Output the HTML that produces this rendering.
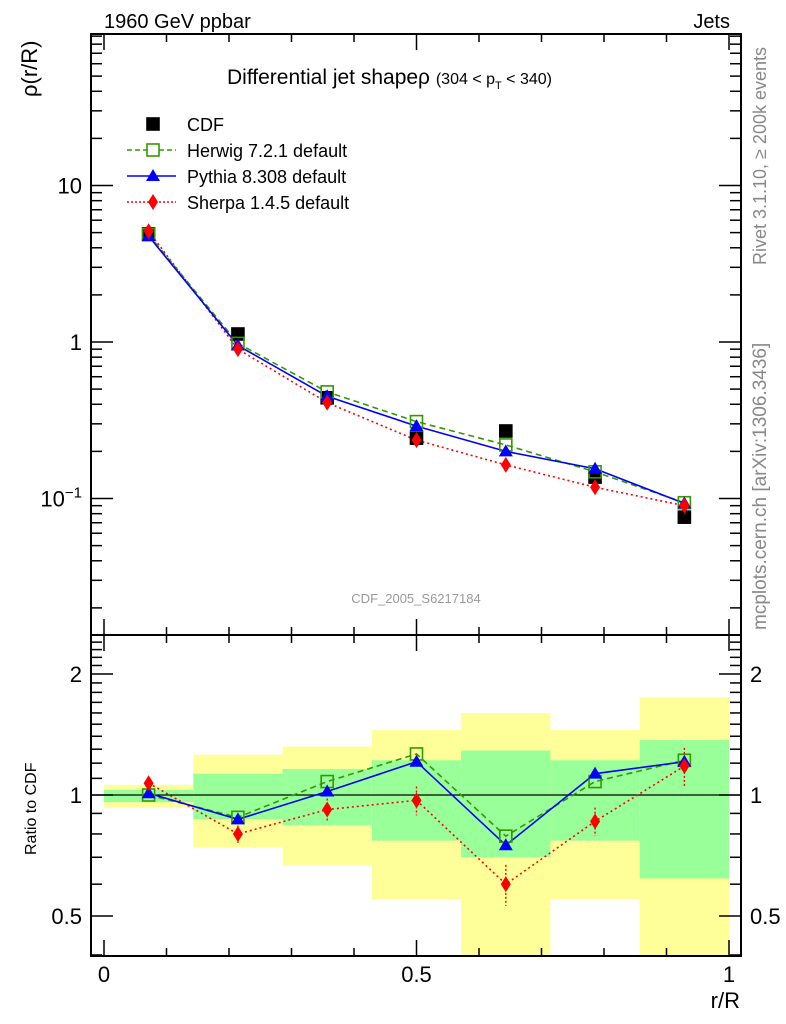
<!DOCTYPE html>
<html><head><meta charset="utf-8">
<style>
html,body{margin:0;padding:0;background:#fff;}
svg{display:block;font-family:"Liberation Sans",sans-serif;}
</style></head>
<body>
<svg id="c" width="786" height="1024" viewBox="0 0 786 1024"></svg>
<script>
const xCenters=[0.0714,0.2143,0.3571,0.5,0.6429,0.7857,0.9286];
const binEdges=[0,0.1429,0.2857,0.4286,0.5714,0.7143,0.8571,1.0];
const cdfVals=[4.9,1.125,0.44,0.243,0.27,0.137,0.076];
const herwigVals=[4.85,0.98,0.48,0.31,0.22,0.148,0.094];
const pythiaVals=[4.75,0.95,0.45,0.29,0.20,0.155,0.093];
const sherpaVals=[5.1,0.9,0.41,0.236,0.164,0.118,0.09];
const herwigRatio=[1.0,0.88,1.08,1.265,0.79,1.08,1.22];
const pythiaRatio=[1.01,0.87,1.02,1.21,0.75,1.13,1.21];
const sherpaRatio=[1.07,0.80,0.92,0.97,0.60,0.86,1.18];
const sherpaRatioErr=[0.03,0.04,0.06,0.08,0.07,0.07,0.13];
const greenHi=[1.03,1.13,1.16,1.22,1.29,1.22,1.37];
const greenLo=[0.96,0.87,0.84,0.77,0.70,0.77,0.62];
const yellowHi=[1.06,1.26,1.32,1.45,1.60,1.45,1.75];
const yellowLo=[0.93,0.74,0.67,0.55,0.40,0.55,0.40];
const xTickLabels=["0","0.5","1"];

const svg=document.getElementById('c');
const NS='http://www.w3.org/2000/svg';
function el(tag,attrs,parent){const e=document.createElementNS(NS,tag);for(const k in attrs)e.setAttribute(k,attrs[k]);(parent||svg).appendChild(e);return e;}
const L=91,R=741,T=34,M=635,B=956;
const X=v=>104+625*v;
const Ym=v=>342-156.5*Math.log10(v);
const Yr=v=>795-402*Math.log10(v);

for(let i=0;i<7;i++){
  const x0=X(binEdges[i]),x1=X(binEdges[i+1]);
  const yb=el('rect',{x:x0,y:Math.max(Yr(yellowHi[i]),M),width:x1-x0,height:Math.min(Yr(yellowLo[i]),B)-Math.max(Yr(yellowHi[i]),M),fill:'#ffff99'});
  
  
  const gb=el('rect',{x:x0,y:Yr(greenHi[i]),width:x1-x0,height:Math.min(Yr(greenLo[i]),B)-Yr(greenHi[i]),fill:'#99ff99'});
  
  
}
el('line',{x1:L,x2:R,y1:Yr(1),y2:Yr(1),stroke:'#000','stroke-width':1.2});

const f1=el('rect',{x:L,y:T,width:R-L,height:M-T,fill:'none',stroke:'#000','stroke-width':2});

const f2=el('rect',{x:L,y:M,width:R-L,height:B-M,fill:'none',stroke:'#000','stroke-width':2});


for(let k=0;k<=10;k++){
  const v=k/10,x=X(v),len=(k%5==0)?16:8;
  for(const [y0,dir] of [[T,1],[M,-1],[M,1],[B,-1]]){
    el('line',{x1:x,x2:x,y1:y0,y2:y0+dir*len,stroke:'#000','stroke-width':1.5});
  }
}
xTickLabels.forEach((t,i)=>{const e=el('text',{x:X(i*0.5),y:982,'font-size':22,'text-anchor':'middle'});e.textContent=t;
});

for(let d=-2;d<=1;d++){for(let m=1;m<=9;m++){
  const v=m*Math.pow(10,d),y=Ym(v); if(y<T||y>M)continue;
  const len=m==1?22:11;
  el('line',{x1:L,x2:L+len,y1:y,y2:y,stroke:'#000','stroke-width':1.5});
  el('line',{x1:R,x2:R-len,y1:y,y2:y,stroke:'#000','stroke-width':1.5});
}}
[[10,"10"],[1,"1"]].forEach(([v,t])=>{const e=el('text',{x:82,y:Ym(v)+8,'font-size':22,'text-anchor':'end'});e.textContent=t;
});
{const e=el('text',{x:82,y:Ym(0.1)+8,'font-size':22,'text-anchor':'end'});e.innerHTML='10<tspan dy="-9" font-size="15">−1</tspan>';
}

const rt=[0.4,0.5,0.6,0.7,0.8,0.9,1,1.1,1.2,1.3,1.4,1.5,1.6,1.7,1.8,1.9,2,2.1,2.2,2.3,2.4,2.5];
rt.forEach(v=>{const y=Yr(v);if(y<M||y>B)return;const maj=(v==0.5||v==1||v==2);const len=maj?22:11;
  el('line',{x1:L,x2:L+len,y1:y,y2:y,stroke:'#000','stroke-width':1.5});
  el('line',{x1:R,x2:R-len,y1:y,y2:y,stroke:'#000','stroke-width':1.5});});
[[2,"2"],[1,"1"],[0.5,"0.5"]].forEach(([v,t])=>{
  const a=el('text',{x:82,y:Yr(v)+8,'font-size':22,'text-anchor':'end'});a.textContent=t;
  
  const b=el('text',{x:750,y:Yr(v)+8,'font-size':22});b.textContent=t;
  });

function square(x,y,fill,stroke,p){el('rect',{x:x-6,y:y-6,width:12,height:12,fill:fill,stroke:stroke,'stroke-width':1.6},p);}
function tri(x,y,p){el('polygon',{points:`${x},${y-7} ${x-7},${y+5} ${x+7},${y+5}`,fill:'#0000ff'},p);}
function dia(x,y,p){el('polygon',{points:`${x},${y-8} ${x-5},${y} ${x},${y+8} ${x+5},${y}`,fill:'#ff0000'},p);}
function poly(vals,Y,stroke,dash,name){
  const pts=vals.map((v,i)=>X(xCenters[i])+','+Y(v)).join(' ');
  const e=el('polyline',{points:pts,fill:'none',stroke:stroke,'stroke-width':1.6,'stroke-dasharray':dash});
  
}
poly(sherpaVals,Ym,'#ff0000','2,3','sherpa-line');
poly(herwigVals,Ym,'#339900','6,4','herwig-line');
poly(pythiaVals,Ym,'#0000ff','','pythia-line');
cdfVals.forEach((v,i)=>{const g=el('g',{});square(X(xCenters[i]),Ym(v),'#000','#000',g);});
herwigVals.forEach((v,i)=>{const g=el('g',{});square(X(xCenters[i]),Ym(v),'none','#339900',g);});
pythiaVals.forEach((v,i)=>{const g=el('g',{});tri(X(xCenters[i]),Ym(v),g);});
sherpaVals.forEach((v,i)=>{const g=el('g',{});dia(X(xCenters[i]),Ym(v),g);});
poly(sherpaRatio,Yr,'#ff0000','2,3','sherpa-ratio-line');
poly(herwigRatio,Yr,'#339900','6,4','herwig-ratio-line');
poly(pythiaRatio,Yr,'#0000ff','','pythia-ratio-line');
sherpaRatio.forEach((v,i)=>{const x=X(xCenters[i]);
  el('line',{x1:x,x2:x,y1:Yr(v+sherpaRatioErr[i]),y2:Yr(v-sherpaRatioErr[i]),stroke:'#ff0000','stroke-width':1.4,'stroke-dasharray':'2,2'});});
herwigRatio.forEach((v,i)=>{const g=el('g',{});square(X(xCenters[i]),Yr(v),'none','#339900',g);});
pythiaRatio.forEach((v,i)=>{const g=el('g',{});tri(X(xCenters[i]),Yr(v),g);});
sherpaRatio.forEach((v,i)=>{const g=el('g',{});dia(X(xCenters[i]),Yr(v),g);});

const lg=el('g',{});
const ly=[124,150,176,202];
square(153,ly[0],'#000','#000',lg);
el('line',{x1:127,x2:176,y1:ly[1],y2:ly[1],stroke:'#339900','stroke-width':1.5,'stroke-dasharray':'5,3'},lg);square(153,ly[1],'#fff','#339900',lg);
el('line',{x1:127,x2:176,y1:ly[2],y2:ly[2],stroke:'#0000ff','stroke-width':1.5},lg);tri(153,ly[2],lg);
el('line',{x1:127,x2:176,y1:ly[3],y2:ly[3],stroke:'#ff0000','stroke-width':1.5,'stroke-dasharray':'2,2'},lg);dia(153,ly[3],lg);
["CDF","Herwig 7.2.1 default","Pythia 8.308 default","Sherpa 1.4.5 default"].forEach((t,i)=>{
  const e=el('text',{x:187,y:ly[i]+7,'font-size':18},lg);e.textContent=t;
  });
</script>
<svg width="786" height="1024" style="position:absolute;left:0;top:0">
<text x="104" y="28" font-size="20" font-family="Liberation Sans">1960 GeV ppbar</text>
<text x="730" y="28" font-size="20" font-family="Liberation Sans" text-anchor="end">Jets</text>
<text x="227" y="84" font-size="21" font-family="Liberation Sans">Differential jet shapeρ <tspan font-size="16">(304 &lt; p</tspan><tspan font-size="11" dy="5">T</tspan><tspan font-size="16" dy="-5"> &lt; 340)</tspan></text>
<text transform="translate(37,97) rotate(-90)" font-size="22" font-family="Liberation Sans">ρ(r/R)</text>
<text transform="translate(36,855) rotate(-90)" font-size="16" font-family="Liberation Sans">Ratio to CDF</text>
<text x="740" y="1008" font-size="22" font-family="Liberation Sans" text-anchor="end">r/R</text>
<text transform="translate(766,265) rotate(-90)" font-size="18" fill="#888" font-family="Liberation Sans">Rivet 3.1.10, ≥ 200k events</text>
<text transform="translate(766,630) rotate(-90)" font-size="19" fill="#888" font-family="Liberation Sans">mcplots.cern.ch [arXiv:1306.3436]</text>
<text x="416" y="603" font-size="13" fill="#999" font-family="Liberation Sans" text-anchor="middle">CDF_2005_S6217184</text>
</svg>
</body></html>
